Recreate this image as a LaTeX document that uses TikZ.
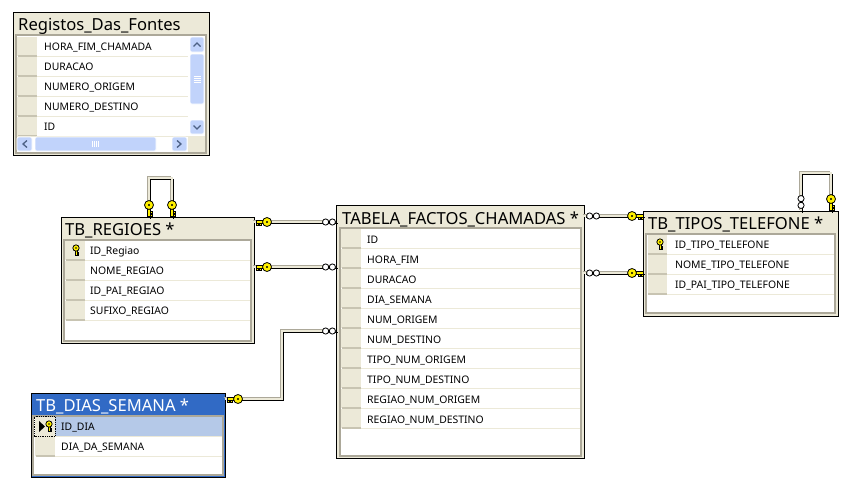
\documentclass[tikz,border=0pt]{standalone}
\usepackage{fontspec}
\setmainfont{Noto Sans}
\usepackage{xcolor}
\definecolor{tablebg}{RGB}{236,233,216}
\definecolor{framegray}{RGB}{172,168,153}
\definecolor{selgray}{RGB}{200,196,178}
\definecolor{activeblue}{RGB}{49,106,197}
\definecolor{rowblue}{RGB}{181,201,232}
\definecolor{keyyellow}{RGB}{255,240,0}
\definecolor{scrollblue}{RGB}{193,211,251}
\definecolor{scrolldark}{RGB}{77,97,133}
\newcommand{\relline}[1]{
  \draw[framegray, line width=1pt, transform canvas={xshift=-1.5pt, yshift=1.5pt}] #1;
  \draw[black, line width=1pt, transform canvas={xshift=1.5pt, yshift=-1.5pt}] #1;
  \draw[tablebg, line width=2.2pt] #1;
}
\tikzset{
  tablebox/.style={draw=black, fill=tablebg, line width=1pt, anchor=north west, inner sep=0pt, outer sep=0pt},
  bodybox/.style={draw=framegray, fill=white, line width=1.6pt, anchor=north west, inner sep=0pt, outer sep=0pt},
  titletext/.style={anchor=west, inner sep=0pt, font=\fontsize{16.6}{18}\selectfont},
  rowtext/.style={anchor=west, inner sep=0pt, text height=8pt, text depth=2pt, font=\fontsize{10.4}{12}\selectfont},
  selcell/.style={fill=tablebg},
  selbar/.style={draw=selgray, line width=1.2pt},
  rowline/.style={draw=tablebg, line width=1pt},
  scrollbtn/.style={fill=scrollblue, draw=white, line width=.6pt, rounded corners=1.5pt},
  chevron/.style={draw=scrolldark, line width=1.3pt},
  keyicon/.pic={
    \fill[keyyellow, draw=black, line width=.7pt] (-1.6,3) rectangle (1.6,11);
    \fill[keyyellow, draw=black, line width=.6pt] (1.6,6) rectangle (3.6,8) (1.6,9.2) rectangle (3.6,11);
    \filldraw[fill=keyyellow, draw=black, line width=.8pt] (0,0) circle (4.5);
    \fill[black] (0,0) circle (1.1);
  },
  inficon/.pic={
    \filldraw[fill=white, draw=black, line width=.8pt] (-3.4,0) circle (3.1) (3.4,0) circle (3.1);
  }
}
\begin{document}
\begin{tikzpicture}[x=1pt, y=-1pt]
  \useasboundingbox (0,0) rectangle (856,498);
  \fill[white] (0,0) rectangle (856,498);

  % tables first, the relationship lines stop on their borders
  \node[tablebox, minimum width=196pt, minimum height=143pt] (registos) at (13,12) {};
  \node[tablebox, minimum width=193pt, minimum height=126pt] (regioes) at (61,217) {};
  \node[tablebox, fill=activeblue, minimum width=194pt, minimum height=84pt] (dias) at (31,393) {};
  \node[tablebox, minimum width=248pt, minimum height=253pt] (factos) at (336,205) {};
  \node[tablebox, minimum width=195pt, minimum height=105pt] (tipos) at (643,211) {};

  % relationships
  \relline{(regioes.east |- 0,222) -- (factos.west |- 0,222)}
  \relline{(regioes.east |- 0,267) -- (factos.west |- 0,267)}
  \relline{(dias.east |- 0,399) -- (282,399) -- (282,331) -- (factos.west |- 0,331)}
  \relline{(factos.east |- 0,216) -- (tipos.west |- 0,216)}
  \relline{(factos.east |- 0,273) -- (tipos.west |- 0,273)}
  \relline{(regioes.north -| 149,0) -- (149,178) -- (172,178) -- (regioes.north -| 172,0)}
  \relline{(tipos.north -| 801,0) -- (801,173) -- (831,173) -- (tipos.north -| 831,0)}

  % table frames and titles
  \node[bodybox, minimum width=190pt, minimum height=118pt] (registos body) at (16,35) {};
  \node[bodybox, minimum width=187pt, minimum height=101pt] (regioes body) at (64,240) {};
  \node[bodybox, minimum width=190pt, minimum height=59pt] (dias body) at (33,416) {};
  \node[bodybox, minimum width=241pt, minimum height=228pt] (factos body) at (340,228) {};
  \node[bodybox, minimum width=189pt, minimum height=79pt] (tipos body) at (646,234) {};
  \node[titletext] (registos title) at (18,26.5) {Registos\_Das\_Fontes};
  \node[titletext] (regioes title) at (65,230.5) {TB\_REGIOES *};
  \node[titletext, text=white] (dias title) at (36,406.5) {TB\_DIAS\_SEMANA *};
  \node[titletext] (factos title) at (342,219.5) {TABELA\_FACTOS\_CHAMADAS *};
  \node[titletext] (tipos title) at (648,224.5) {TB\_TIPOS\_TELEFONE *};

  % selected row of TB_DIAS_SEMANA
  \fill[rowblue] (55,417) rectangle (222,436);

  % rows of each table
  \foreach \name [count=\i] in {HORA\_FIM\_CHAMADA,DURACAO,NUMERO\_ORIGEM,NUMERO\_DESTINO,ID} {
    \fill[selcell] (17,{17+20*\i}) rectangle (37,{36+20*\i});
    \draw[selbar] (18,{36+20*\i}) -- (37,{36+20*\i});
    \draw[rowline] (37,{36.5+20*\i}) -- (188,{36.5+20*\i});
    \node[rowtext] (registos\i) at (44,{27+20*\i}) {\name};
  }
  \foreach \name [count=\i] in {ID\_Regiao,NOME\_REGIAO,ID\_PAI\_REGIAO,SUFIXO\_REGIAO} {
    \fill[selcell] (65,{221+20*\i}) rectangle (85,{240+20*\i});
    \draw[selbar] (66,{240+20*\i}) -- (85,{240+20*\i});
    \draw[rowline] (85,{240.5+20*\i}) -- (250,{240.5+20*\i});
    \node[rowtext] (regioes\i) at (90,{231+20*\i}) {\name};
  }
  \foreach \name [count=\i] in {ID\_DIA,DIA\_DA\_SEMANA} {
    \fill[selcell] (35,{397+20*\i}) rectangle (55,{416+20*\i});
    \draw[selbar] (36,{416+20*\i}) -- (55,{416+20*\i});
    \draw[rowline] (55,{416.5+20*\i}) -- (222,{416.5+20*\i});
    \node[rowtext] (dias\i) at (61,{407+20*\i}) {\name};
  }
  \foreach \name [count=\i] in {ID,HORA\_FIM,DURACAO,DIA\_SEMANA,NUM\_ORIGEM,NUM\_DESTINO,TIPO\_NUM\_ORIGEM,TIPO\_NUM\_DESTINO,REGIAO\_NUM\_ORIGEM,REGIAO\_NUM\_DESTINO} {
    \fill[selcell] (341,{209+20*\i}) rectangle (361,{228+20*\i});
    \draw[selbar] (342,{228+20*\i}) -- (361,{228+20*\i});
    \draw[rowline] (361,{228.5+20*\i}) -- (580,{228.5+20*\i});
    \node[rowtext] (factos\i) at (367,{220+20*\i}) {\name};
  }
  \foreach \name [count=\i] in {ID\_TIPO\_TELEFONE,NOME\_TIPO\_TELEFONE,ID\_PAI\_TIPO\_TELEFONE} {
    \fill[selcell] (648,{215+20*\i}) rectangle (667,{234+20*\i});
    \draw[selbar] (648,{234+20*\i}) -- (667,{234+20*\i});
    \draw[rowline] (667,{234.5+20*\i}) -- (834,{234.5+20*\i});
    \node[rowtext] (tipos\i) at (675,{225+20*\i}) {\name};
  }

  % row pointer of TB_DIAS_SEMANA
  \fill[tablebg] (35,417) rectangle (55,437);
  \draw[densely dotted, line width=.8pt] (34.5,416.5) rectangle (55,436.5);
  \fill[black] (39,421) -- (45,426.5) -- (39,432) -- cycle;

  % scrollbars of Registos_Das_Fontes
  \fill[white] (189,36) rectangle (205,136);
  \fill[tablebg] (188,136) rectangle (205,152);
  \fill[white] (33,137) rectangle (172,151);
  \fill[tablebg] (17,136) rectangle (188,137);
  \draw[scrollbtn] (190,37) rectangle (204,52);
  \draw[scrollbtn] (190,54) rectangle (204,104);
  \draw[scrollbtn] (190,120) rectangle (204,134);
  \draw[scrollbtn] (17,137) rectangle (32,151);
  \draw[scrollbtn] (35,137) rectangle (156,151);
  \draw[scrollbtn] (172,137) rectangle (187,151);
  \draw[chevron] (193.5,46.5) -- (197,43) -- (200.5,46.5);
  \draw[chevron] (193.5,125.5) -- (197,129) -- (200.5,125.5);
  \draw[chevron] (27,140.5) -- (23,144) -- (27,147.5);
  \draw[chevron] (177,140.5) -- (181,144) -- (177,147.5);
  \foreach \y in {76,78,80,82} {
    \draw[white, line width=.7pt] (193.5,\y) -- (200.5,\y);
  }
  \foreach \x in {92,94,96,98} {
    \draw[white, line width=.7pt] (\x,141) -- (\x,147);
  }

  % crow's feet on top of the lines
  \pic at (329,222) {inficon};
  \pic at (329,267) {inficon};
  \pic at (329,331) {inficon};
  \pic at (593,216) {inficon};
  \pic at (593,273) {inficon};
  \pic[rotate=90] at (801,202) {inficon};
  % keys
  \pic[rotate=-90] at (267,222) {keyicon};
  \pic[rotate=-90] at (267,267) {keyicon};
  \pic[rotate=-90] at (238,399) {keyicon};
  \pic[rotate=90, xscale=-1] at (632,216) {keyicon};
  \pic[rotate=90, xscale=-1] at (632,273) {keyicon};
  \pic at (149,205) {keyicon};
  \pic at (172,205) {keyicon};
  \pic at (831,199) {keyicon};
  \pic[scale=.7] at (76,248) {keyicon};
  \pic[scale=.7] at (660,242) {keyicon};
  \pic[scale=.7] at (49,424) {keyicon};
\end{tikzpicture}
\end{document}
